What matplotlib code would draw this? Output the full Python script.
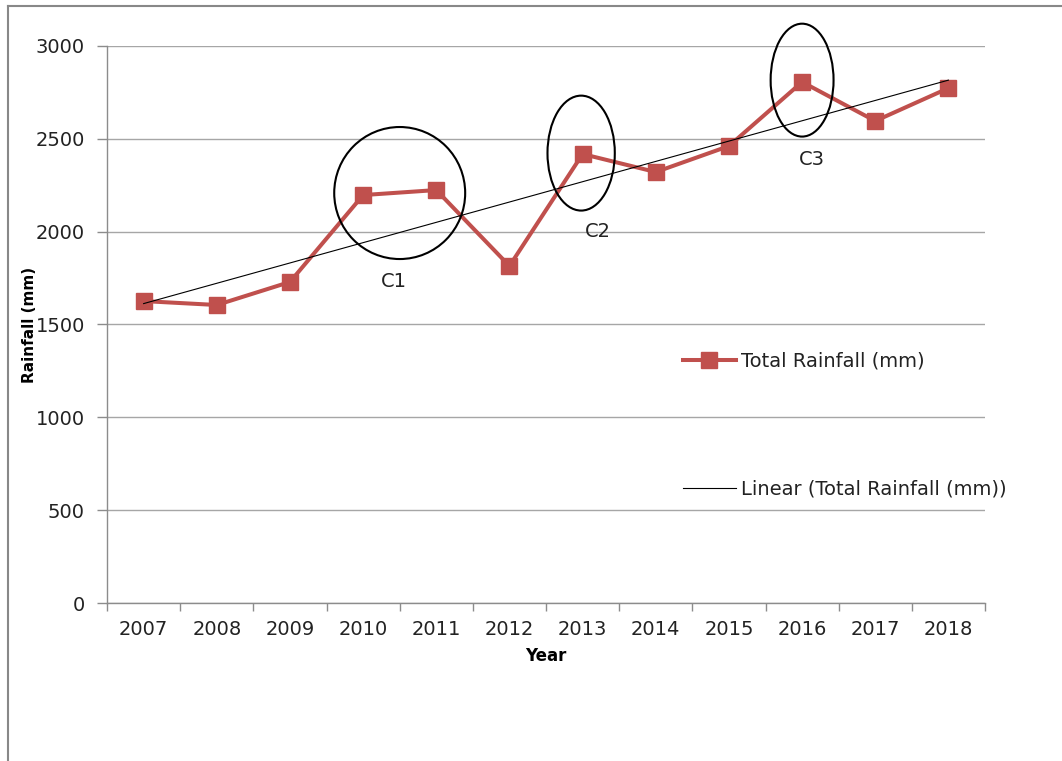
import numpy as np
import matplotlib
matplotlib.use('Agg')
import matplotlib.pyplot as plt
from matplotlib.lines import Line2D
from matplotlib.patches import Ellipse

# data
years = ['2007', '2008', '2009', '2010', '2011', '2012',
         '2013', '2014', '2015', '2016', '2017', '2018']
rainfall = [1626, 1605, 1729, 2197, 2224, 1815, 2418, 2321, 2461, 2806, 2596, 2773]

# highlighted clusters: label, centre x (category index), centre y, width, height, label x, label y
clusters = ['C1', 'C2', 'C3']
cl_x = [3.50, 5.98, 9.00]
cl_y = [2208, 2423, 2816]
cl_w = [1.79, 0.92, 0.86]
cl_h = [711, 619, 608]
lab_x = [3.42, 6.21, 9.14]
lab_y = [1734, 2003, 2386]

red = '#C0504D'
grey = '#8C8C8C'
plt.rcParams['font.family'] = 'DejaVu Sans'

fig = plt.figure(figsize=(10.62, 7.61), dpi=100)
ax = fig.add_axes([0.1008, 0.2076, 0.8267, 0.732])

x = np.arange(len(years))
ax.plot(x, rainfall, color=red, lw=2.9, marker='s', ms=11.5, mec=red, mfc=red,
        label='Total Rainfall (mm)', zorder=3)

# linear trend (least squares from the series)
k, b = np.polyfit(x, rainfall, 1)
ax.plot(x, k * x + b, color='black', lw=0.8, label='Linear (Total Rainfall (mm))', zorder=4)

for name, cx, cy, w, h, tx, ty in zip(clusters, cl_x, cl_y, cl_w, cl_h, lab_x, lab_y):
    ax.add_patch(Ellipse((cx, cy), w, h, fill=False, ec='black', lw=1.5, zorder=5, clip_on=False))
    ax.text(tx, ty, name, ha='center', va='center', fontsize=14, color='#222222')

ax.set_xlim(-0.5, len(years) - 0.5)
ax.set_ylim(0, 3000)
ax.set_yticks(np.arange(0, 3001, 500))
ax.yaxis.grid(True, color='#A6A6A6', lw=1)
ax.set_axisbelow(True)

# category axis: ticks on boundaries, labels at centres
ax.set_xticks(np.arange(-0.5, len(years), 1))
ax.set_xticklabels([])
ax.set_xticks(x, minor=True)
ax.set_xticklabels(years, minor=True)
ax.tick_params(axis='x', which='major', length=6, color=grey, width=1)
ax.tick_params(axis='x', which='minor', length=0, pad=12, labelsize=14, labelcolor='#222222')
ax.tick_params(axis='y', length=7, color=grey, width=1, pad=9, labelsize=14, labelcolor='#222222')

for side in ['top', 'right']:
    ax.spines[side].set_visible(False)
for side in ['left', 'bottom']:
    ax.spines[side].set_color(grey)
    ax.spines[side].set_linewidth(1)

ax.set_ylabel('Rainfall (mm)', fontsize=11, fontweight='bold')
ax.yaxis.set_label_coords(-0.08, 0.5)
ax.set_xlabel('Year', fontsize=12, fontweight='bold', labelpad=6)

leg = ax.legend(loc='center left', bbox_to_anchor=(683 / 1062, 1 - 425 / 761),
                bbox_transform=fig.transFigure, frameon=False, fontsize=14,
                handlelength=2.7, handletextpad=0.3, labelspacing=5.6,
                borderpad=0, borderaxespad=0)
for t in leg.get_texts():
    t.set_color('#222222')

# outer chart frame (top and left edges visible)
fig.add_artist(Line2D([8 / 1062, 8 / 1062], [0, 1 - 6 / 761], color='#888888', lw=1.5))
fig.add_artist(Line2D([8 / 1062, 1], [1 - 6 / 761, 1 - 6 / 761], color='#888888', lw=1.5))

fig.savefig('out.png', dpi=100)
